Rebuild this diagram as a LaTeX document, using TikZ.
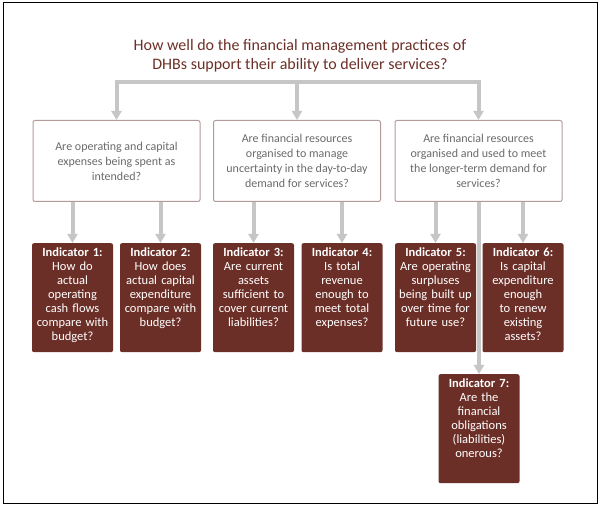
\documentclass[tikz,border=0pt]{standalone}
\usepackage{fontspec}
\setmainfont{Carlito}
\usetikzlibrary{arrows.meta,positioning}

\definecolor{dhbred}{HTML}{6C2F27}
\definecolor{linkgray}{HTML}{C6C6C6}
\definecolor{qedge}{HTML}{B39A9A}
\definecolor{qtext}{HTML}{6A6A6A}

\begin{document}
\begin{tikzpicture}[
    x=1pt, y=-1pt,
    >={Triangle[width=10pt,length=9pt]},
    link/.style={draw=linkgray, line width=4pt},
    question/.style={
        draw=qedge,
        line width=1pt,
        rounded corners=2pt,
        minimum width=167pt,
        minimum height=81pt,
        anchor=north,
        align=center,
        text=qtext,
        font=\fontsize{12}{15}\selectfont
    },
    indicator/.style={
        fill=dhbred,
        rounded corners=2pt,
        minimum width=81pt,
        text width=79pt,
        inner xsep=1pt,
        inner ysep=0pt,
        text height=13pt,
        text depth=96pt,
        anchor=north,
        align=center,
        text=white,
        font=\fontsize{12.5}{14}\selectfont
    }
]
\useasboundingbox (0,0) rectangle (600,510);
\draw[line width=1pt] (3,3) rectangle (597,503);

\node[text=dhbred, align=center, font=\fontsize{16}{19}\selectfont] (title) at (300,56)
    {How well do the financial management practices of\\DHBs support their ability to deliver services?};

\node[question] (qa) at (116.5,120) {Are operating and capital\\expenses being spent as\\intended?};
\node[question] (qb) at (297,120) {Are financial resources\\organised to manage\\uncertainty in the day-to-day\\demand for services?};
\node[question] (qc) at (478.5,120) {Are financial resources\\organised and used to meet\\the longer-term demand for\\services?};

\node[indicator] (ind1) at (72.5,243) {\textbf{Indicator 1:}\\How do\\actual\\operating\\cash flows\\compare with\\budget?};
\node[indicator] (ind2) at (160.5,243) {\textbf{Indicator 2:}\\How does\\actual capital\\expenditure\\compare with\\budget?};
\node[indicator] (ind3) at (253.5,243) {\textbf{Indicator 3:}\\Are current\\assets\\sufficient to\\cover current\\liabilities?};
\node[indicator] (ind4) at (342,243) {\textbf{Indicator 4:}\\Is total\\revenue\\enough to\\meet total\\expenses?};
\node[indicator] (ind5) at (435.5,243) {\textbf{Indicator 5:}\\Are operating\\surpluses\\being built up\\over time for\\future use?};
\node[indicator] (ind6) at (523,243) {\textbf{Indicator 6:}\\Is capital\\expenditure\\enough\\to renew\\existing\\assets?};
\node[indicator] (ind7) at (479,374) {\textbf{Indicator 7:}\\Are the\\financial\\obligations\\(liabilities)\\onerous?};

% main question splits into the three areas
\coordinate (fork) at (297,82);
\draw[link,->] (fork) -| (qa.north);
\draw[link,->] (fork) -- (qb.north);
\draw[link,->] (fork) -| (qc.north);

% areas down to the indicators
\draw[link,->] (qa.south -| ind1.north) -- (ind1.north);
\draw[link,->] (qa.south -| ind2.north) -- (ind2.north);
\draw[link,->] (qb.south -| ind3.north) -- (ind3.north);
\draw[link,->] (qb.south -| ind4.north) -- (ind4.north);
\draw[link,->] (qc.south -| ind5.north) -- (ind5.north);
\draw[link,->] (qc.south -| ind6.north) -- (ind6.north);
\draw[link,->] (qc.south -| ind7.north) -- (ind7.north);

\end{tikzpicture}
\end{document}
